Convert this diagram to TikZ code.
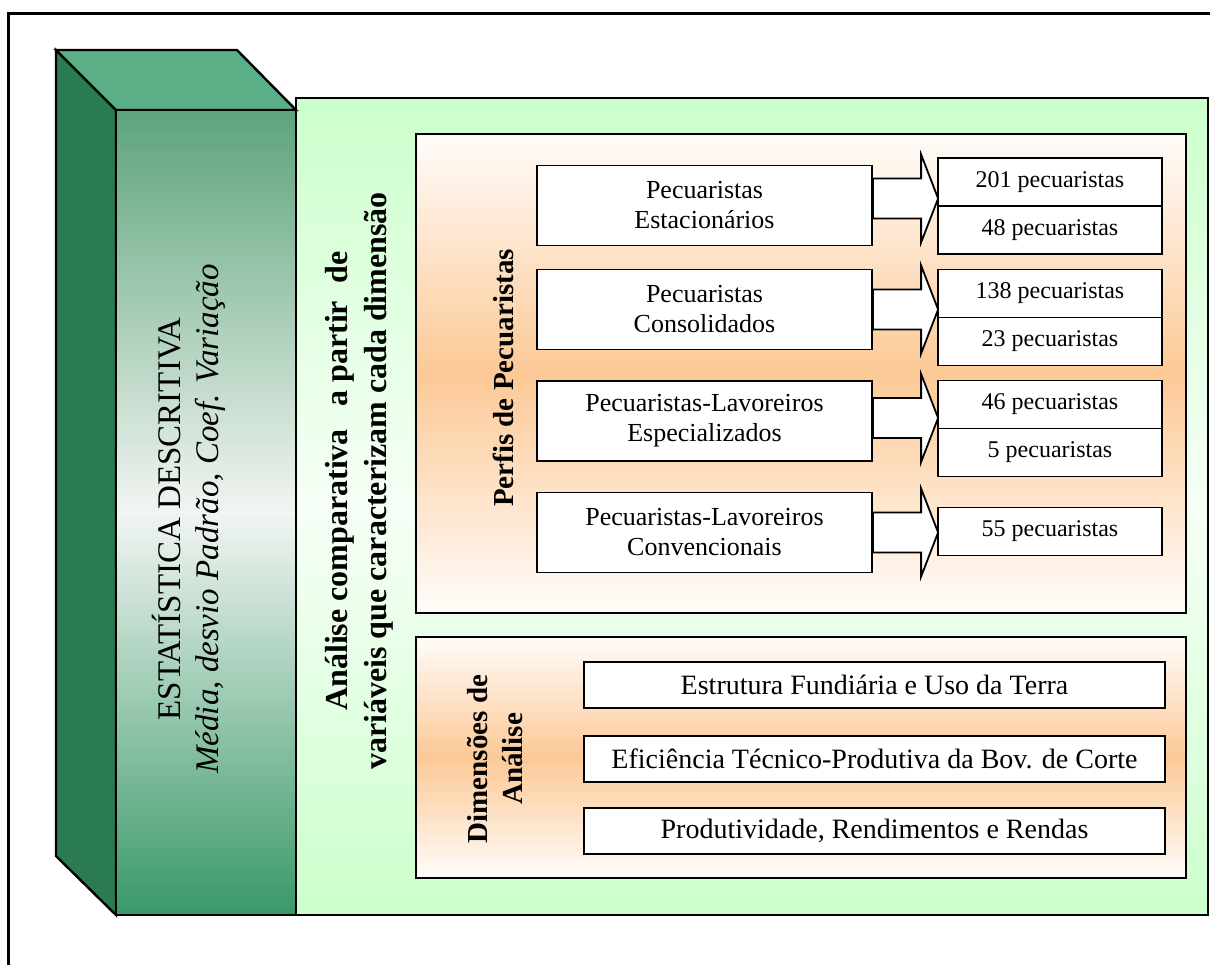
\documentclass[tikz,border=0pt]{standalone}
\usepackage{fontspec}
\setmainfont{Liberation Serif}
\usetikzlibrary{calc}

\definecolor{sidegreen}{RGB}{42,124,80}
\definecolor{topgreen}{RGB}{90,175,134}
\definecolor{facetop}{RGB}{92,163,122}
\definecolor{facemid}{RGB}{242,245,242}
\definecolor{facebot}{RGB}{56,152,104}
\definecolor{panelgreen}{RGB}{204,255,204}
\definecolor{panelmid}{RGB}{246,255,246}
\definecolor{peach}{RGB}{252,201,150}
\definecolor{peachlight}{RGB}{255,252,250}

\tikzset{
  frameline/.style={line width=3pt},
  bigline/.style={draw, line width=2.6pt, inner sep=0pt},
  boxw/.style={draw, line width=1.8pt, fill=white, inner sep=0pt, align=center},
  prof/.style={boxw, minimum width=335pt, minimum height=80pt, font=\fontsize{26}{30}\selectfont},
  cnt/.style={boxw, minimum width=224pt, minimum height=48pt, font=\fontsize{24}{28}\selectfont},
  dimbox/.style={boxw, minimum width=581pt, minimum height=46pt, font=\fontsize{28}{32}\selectfont},
  arrowbody/.style={draw, line width=1.8pt, fill=white, line join=miter},
  vlabel/.style={rotate=90, align=center, inner sep=0pt},
  greenshade/.style={top color=panelgreen, bottom color=panelgreen, middle color=panelmid},
  peachshade/.style={top color=peachlight, bottom color=peachlight, middle color=peach},
  faceshade/.style={top color=facetop, bottom color=facebot, middle color=facemid},
}

% block arrow from the right side of #1 to the left side of #2, shifted by #3
\newcommand\blockarrow[3]{%
  \coordinate (s) at ($(#1.east)+(0,#3)$);
  \coordinate (t) at ($(#2.west |- #1.east)+(1,#3)$);
  \draw[arrowbody] ($(s)+(0,-20)$) -- ($(t)+(-17,-20)$) -- ($(t)+(-17,-44)$)
    -- (t) -- ($(t)+(-17,44)$) -- ($(t)+(-17,20)$) -- ($(s)+(0,20)$) -- cycle;
}

\begin{document}
\begin{tikzpicture}[x=1pt,y=-1pt]
\useasboundingbox (0,0) rectangle (1210,964);

% page frame
\draw[frameline] (8.5,975) -- (8.5,13.5) -- (1220,13.5);

% light green panel
\node[bigline, minimum width=912pt, minimum height=817pt, greenshade]
      (panel) at (752,506.5) {};

% 3D block
\path[draw, line width=2.4pt, fill=sidegreen, line join=miter]
  (56,50) -- (116,110) -- (116,915) -- (56,856) -- cycle;
\path[draw, line width=2.4pt, fill=topgreen, line join=miter]
  (56,50) -- (237,50) -- (296,110) -- (116,110) -- cycle;
\node[bigline, line width=2.4pt, minimum width=180pt, minimum height=805pt, faceshade]
      (front) at (206,512.5) {};

\node[vlabel, font=\fontsize{33}{38}\selectfont] (estat) at (189,519)
  {ESTATÍSTICA DESCRITIVA\\\textit{Média, desvio Padrão, Coef. Variação}};

\node[vlabel, font=\bfseries\fontsize{32}{39}\selectfont] (analise) at (359,481)
  {Análise comparativa\hspace{0.45em} a partir\hspace{0.3em} de\\variáveis que caracterizam cada dimensão};

% profiles panel
\node[bigline, minimum width=770pt, minimum height=479pt, peachshade]
      (perfis) at (801,373.5) {};
\node[vlabel, font=\bfseries\fontsize{29}{35}\selectfont] (perfislbl) at (503,378)
  {Perfis de Pecuaristas};

\node[prof] (p1) at (704.5,205.5) {Pecuaristas\\Estacionários};
\node[prof] (p2) at (704.5,309.5) {Pecuaristas\\Consolidados};
\node[prof] (p3) at (704.5,421) {Pecuaristas-Lavoreiros\\Especializados};
\node[prof] (p4) at (704.5,532.5) {Pecuaristas-Lavoreiros\\Convencionais};

\node[cnt] (c1a) at (1050,182) {201 pecuaristas};
\node[cnt] (c1b) at (1050,230) {48 pecuaristas};
\node[cnt] (c2a) at (1050,293.5) {138 pecuaristas};
\node[cnt] (c2b) at (1050,341.5) {23 pecuaristas};
\node[cnt] (c3a) at (1050,404.5) {46 pecuaristas};
\node[cnt] (c3b) at (1050,452.5) {5 pecuaristas};
\node[cnt] (c4) at (1050,531.5) {55 pecuaristas};

\blockarrow{p1}{c1a}{-7}
\blockarrow{p2}{c2a}{0}
\blockarrow{p3}{c3a}{-3}
\blockarrow{p4}{c4}{0}

% analysis dimensions panel
\node[bigline, minimum width=770pt, minimum height=241pt, peachshade]
      (dims) at (801,757.5) {};
\node[vlabel, font=\bfseries\fontsize{29}{35}\selectfont] (dimslbl) at (495,759)
  {Dimensões de\\Análise};

\node[dimbox] (d1) at (874.5,685) {Estrutura Fundiária e Uso da Terra};
\node[dimbox] (d2) at (874.5,759) {Eficiência Técnico-Produtiva da Bov. de Corte};
\node[dimbox] (d3) at (874.5,831) {Produtividade, Rendimentos e Rendas};
\end{tikzpicture}
\end{document}
